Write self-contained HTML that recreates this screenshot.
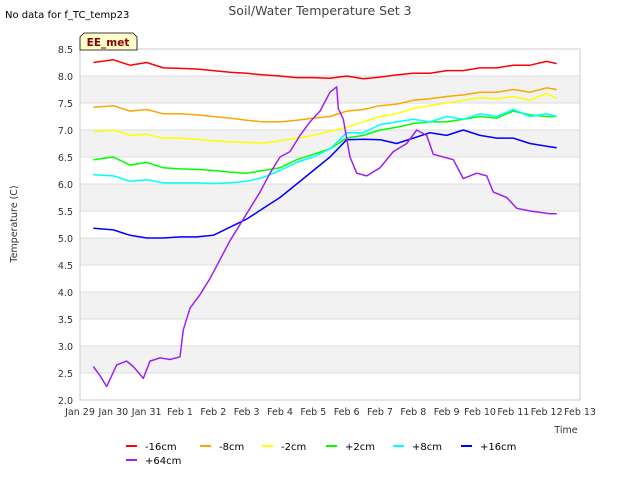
<!DOCTYPE html>
<html><head><meta charset="utf-8"><style>
body{margin:0;background:#fff;font-family:"DejaVu Sans",sans-serif}
</style></head><body>
<svg id="chart" width="640" height="480" xmlns="http://www.w3.org/2000/svg" font-family="DejaVu Sans, Liberation Sans, sans-serif">
<rect width="640" height="480" fill="#fff"/>
<text x="320" y="15" text-anchor="middle" font-size="12.5" fill="#444">Soil/Water Temperature Set 3</text>
<text x="5" y="18" font-size="10" fill="#000">No data for f_TC_temp23</text>
<g id="grid"></g>
<rect x="80" y="49" width="500" height="351" fill="none" stroke="#ccc"/>
<g id="series"></g>
<g id="axes"></g>
<path d="M84,33 H133 L137,37 V50 H80 V37 Z" fill="#ffffcc" stroke="#000" stroke-width="0.8"/>
<text x="108" y="46" text-anchor="middle" font-size="10.5" font-weight="bold" fill="#8b0000">EE_met</text>
<text transform="translate(17,224) rotate(-90)" text-anchor="middle" font-size="9.5" fill="#333">Temperature (C)</text>
<text x="566" y="433" text-anchor="middle" font-size="9.5" fill="#333">Time</text>
<g id="legend"></g>
</svg>
<script>
const days=[0.4,1,1.5,2,2.5,3,3.5,4,4.5,5,5.5,6,6.5,7,7.5,8,8.5,9,9.5,10,10.5,11,11.5,12,12.5,13,13.5,14,14.3];
const s16=[8.25,8.3,8.2,8.25,8.15,8.14,8.13,8.1,8.07,8.05,8.02,8.0,7.97,7.97,7.96,8.0,7.95,7.98,8.02,8.05,8.05,8.1,8.1,8.15,8.15,8.2,8.2,8.27,8.23];
const s8=[7.42,7.45,7.35,7.38,7.3,7.3,7.28,7.25,7.22,7.18,7.15,7.15,7.18,7.22,7.25,7.35,7.38,7.45,7.48,7.55,7.58,7.62,7.65,7.7,7.7,7.75,7.7,7.78,7.75];
const s2=[6.97,7.0,6.9,6.92,6.85,6.85,6.83,6.8,6.78,6.77,6.76,6.8,6.85,6.9,6.98,7.05,7.15,7.25,7.3,7.4,7.45,7.5,7.55,7.6,7.58,7.62,7.55,7.68,7.58];
const p2=[6.45,6.5,6.35,6.4,6.3,6.28,6.27,6.25,6.22,6.2,6.25,6.3,6.45,6.55,6.65,6.85,6.9,7.0,7.05,7.12,7.15,7.15,7.2,7.25,7.22,7.35,7.28,7.25,7.25];
const p8=[6.17,6.15,6.05,6.08,6.02,6.02,6.02,6.01,6.02,6.05,6.12,6.25,6.4,6.5,6.65,6.95,6.95,7.1,7.15,7.2,7.15,7.25,7.2,7.3,7.25,7.38,7.25,7.3,7.25];
const p16=[5.18,5.15,5.05,5.0,5.0,5.02,5.02,5.05,5.2,5.35,5.55,5.75,6.0,6.25,6.5,6.82,6.83,6.82,6.75,6.85,6.95,6.9,7.0,6.9,6.85,6.85,6.75,6.7,6.67];
const days64=[0.4,0.6,0.8,1.1,1.4,1.6,1.9,2.1,2.4,2.7,3.0,3.1,3.3,3.6,3.9,4.2,4.5,4.8,5.1,5.4,5.7,6.0,6.3,6.6,6.9,7.2,7.5,7.7,7.75,7.9,8.1,8.3,8.6,9.0,9.4,9.8,10.1,10.4,10.6,10.9,11.2,11.5,11.9,12.2,12.4,12.8,13.1,13.5,14.1,14.3];
const p64=[2.62,2.45,2.25,2.65,2.72,2.62,2.4,2.72,2.78,2.75,2.8,3.3,3.7,3.95,4.25,4.6,4.95,5.25,5.55,5.85,6.2,6.5,6.6,6.9,7.15,7.35,7.7,7.8,7.4,7.2,6.5,6.2,6.15,6.3,6.6,6.75,7.0,6.9,6.55,6.5,6.45,6.1,6.2,6.15,5.85,5.75,5.55,5.5,5.45,5.45];
const yTicks=[2.0,2.5,3.0,3.5,4.0,4.5,5.0,5.5,6.0,6.5,7.0,7.5,8.0,8.5];
const xLabels=["Jan 29","Jan 30","Jan 31","Feb 1","Feb 2","Feb 3","Feb 4","Feb 5","Feb 6","Feb 7","Feb 8","Feb 9","Feb 10","Feb 11","Feb 12","Feb 13"];
const names=["-16cm","-8cm","-2cm","+2cm","+8cm","+16cm","+64cm"];
const colors=["#ff0000","#ffa500","#ffff00","#00ff00","#00ffff","#0000ff","#a020f0"];
const NS="http://www.w3.org/2000/svg";
const X=d=>80+d*500/15, Y=v=>400-(v-2)*351/6.5;
function mk(t,a,p){const e=document.createElementNS(NS,t);for(const k in a)e.setAttribute(k,a[k]);p.appendChild(e);return e;}
const grid=document.getElementById('grid'),axes=document.getElementById('axes');
for(let i=0;i<yTicks.length-1;i++){if(i%2===1){const r=mk('rect',{x:80,y:Y(yTicks[i+1]),width:500,height:Y(yTicks[i])-Y(yTicks[i+1]),fill:'#f2f2f2'},grid);

}}
yTicks.forEach(v=>{const l=mk('line',{x1:80,x2:580,y1:Y(v),y2:Y(v),stroke:'#ddd'},grid);


const t=mk('text',{x:73,y:Y(v)+4,'text-anchor':'end','font-size':9.5,fill:'#333'},axes);t.textContent=v.toFixed(1);

});
xLabels.forEach((s,i)=>{const t=mk('text',{x:X(i),y:415,'text-anchor':'middle','font-size':9.5,fill:'#333'},axes);t.textContent=s;

});
const sg=document.getElementById('series');
const all=[[days,s16],[days,s8],[days,s2],[days,p2],[days,p8],[days,p16],[days64,p64]];
all.forEach(([dx,vy],k)=>{const pts=dx.map((d,i)=>X(d).toFixed(1)+','+Y(vy[i]).toFixed(1)).join(' ');
const pl=mk('polyline',{points:pts,fill:'none',stroke:colors[k],'stroke-width':1.5,'stroke-linejoin':'round'},sg);

});
const lg=document.getElementById('legend');
names.forEach((n,k)=>{const row=k<6?0:1,col=k<6?k:0;const lx=[126,200,262,326,393,461][col],ly=446+row*14;
const g=mk('g',{},lg);


mk('line',{x1:lx,x2:lx+11,y1:ly,y2:ly,stroke:colors[k],'stroke-width':2},g);
const t=mk('text',{x:lx+19,y:ly+4,'font-size':10,fill:'#000'},g);t.textContent=n;});
</script>
</body></html>
